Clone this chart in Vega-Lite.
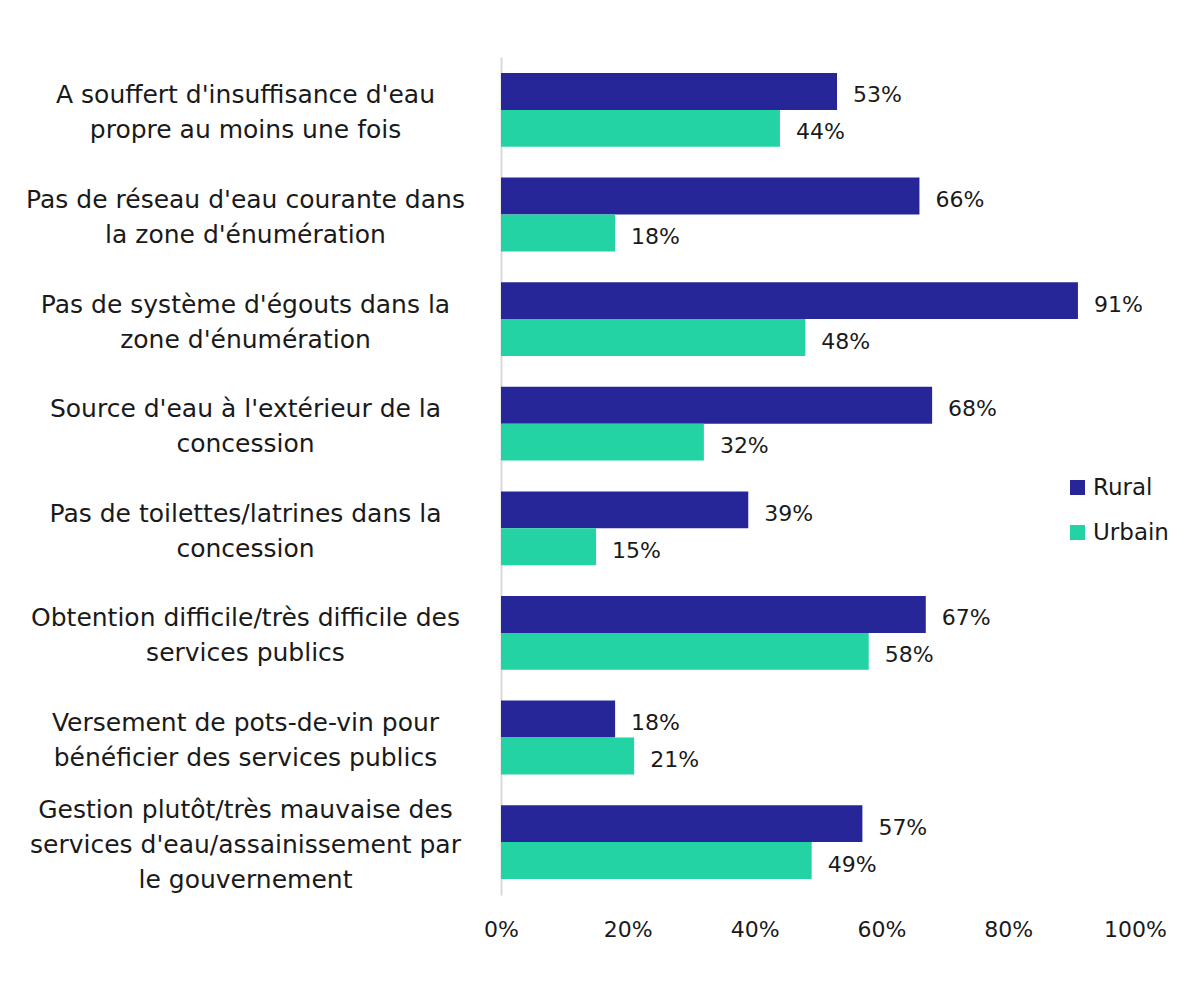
{
  "$schema": "https://vega.github.io/schema/vega-lite/v6.json",
  "autosize": "none",
  "width": 634,
  "height": 838,
  "padding": {"left": 501, "top": 57, "right": 56, "bottom": 111},
  "background": "white",
  "config": {
    "font": "DejaVu Sans",
    "view": {"stroke": null}
  },
  "data": {
    "values": [
      {"cat": "A souffert d'insuffisance d'eau|propre au moins une fois", "zone": "Rural", "v": 0.53},
      {"cat": "A souffert d'insuffisance d'eau|propre au moins une fois", "zone": "Urbain", "v": 0.44},
      {"cat": "Pas de réseau d'eau courante dans|la zone d'énumération", "zone": "Rural", "v": 0.66},
      {"cat": "Pas de réseau d'eau courante dans|la zone d'énumération", "zone": "Urbain", "v": 0.18},
      {"cat": "Pas de système d'égouts dans la|zone d'énumération", "zone": "Rural", "v": 0.91},
      {"cat": "Pas de système d'égouts dans la|zone d'énumération", "zone": "Urbain", "v": 0.48},
      {"cat": "Source d'eau à l'extérieur de la|concession", "zone": "Rural", "v": 0.68},
      {"cat": "Source d'eau à l'extérieur de la|concession", "zone": "Urbain", "v": 0.32},
      {"cat": "Pas de toilettes/latrines dans la|concession", "zone": "Rural", "v": 0.39},
      {"cat": "Pas de toilettes/latrines dans la|concession", "zone": "Urbain", "v": 0.15},
      {"cat": "Obtention difficile/très difficile des|services publics", "zone": "Rural", "v": 0.67},
      {"cat": "Obtention difficile/très difficile des|services publics", "zone": "Urbain", "v": 0.58},
      {"cat": "Versement de pots-de-vin pour|bénéficier des services publics", "zone": "Rural", "v": 0.18},
      {"cat": "Versement de pots-de-vin pour|bénéficier des services publics", "zone": "Urbain", "v": 0.21},
      {"cat": "Gestion plutôt/très mauvaise des|services d'eau/assainissement par|le gouvernement", "zone": "Rural", "v": 0.57},
      {"cat": "Gestion plutôt/très mauvaise des|services d'eau/assainissement par|le gouvernement", "zone": "Urbain", "v": 0.49}
    ]
  },
  "encoding": {
    "y": {
      "field": "cat",
      "type": "nominal",
      "sort": null,
      "scale": {"paddingInner": 0.294, "paddingOuter": 0.153},
      "axis": {
        "title": null,
        "ticks": false,
        "domain": true,
        "domainColor": "#d9d9d9",
        "domainWidth": 2,
        "labelAlign": "center",
        "labelPadding": 256,
        "labelFontSize": 25,
        "labelColor": "#1a1a1a",
        "labelLineHeight": 35,
        "labelLimit": 520,
        "labelOffset": {"condition": {"test": "length(split(datum.label, '|')) == 3", "value": -32}, "value": -14.5},
        "labelExpr": "split(datum.label, '|')"
      }
    },
    "yOffset": {"field": "zone", "type": "nominal"},
    "x": {
      "field": "v",
      "type": "quantitative",
      "scale": {"domain": [0, 1]},
      "axis": {
        "title": null,
        "grid": false,
        "domain": false,
        "ticks": false,
        "values": [0, 0.2, 0.4, 0.6, 0.8, 1],
        "format": ".0%",
        "labelFlush": false,
        "labelOverlap": false,
        "labelFontSize": 22,
        "labelColor": "#1a1a1a",
        "labelPadding": 24
      }
    }
  },
  "layer": [
    {
      "mark": {"type": "bar"},
      "encoding": {
        "color": {
          "field": "zone",
          "type": "nominal",
          "scale": {"domain": ["Rural", "Urbain"], "range": ["#262699", "#24d3a3"]},
          "legend": {
            "title": null,
            "orient": "none",
            "legendX": 565,
            "legendY": 419,
            "symbolType": "square",
            "symbolSize": 225,
            "symbolStrokeWidth": 0,
            "labelFontSize": 23,
            "labelColor": "#1a1a1a",
            "rowPadding": 21,
            "labelOffset": 4
          }
        }
      }
    },
    {
      "mark": {"type": "text", "align": "left", "baseline": "middle", "dx": 16, "dy": 4, "fontSize": 22, "color": "#1a1a1a"},
      "encoding": {
        "text": {"field": "v", "type": "quantitative", "format": ".0%"}
      }
    }
  ]
}
